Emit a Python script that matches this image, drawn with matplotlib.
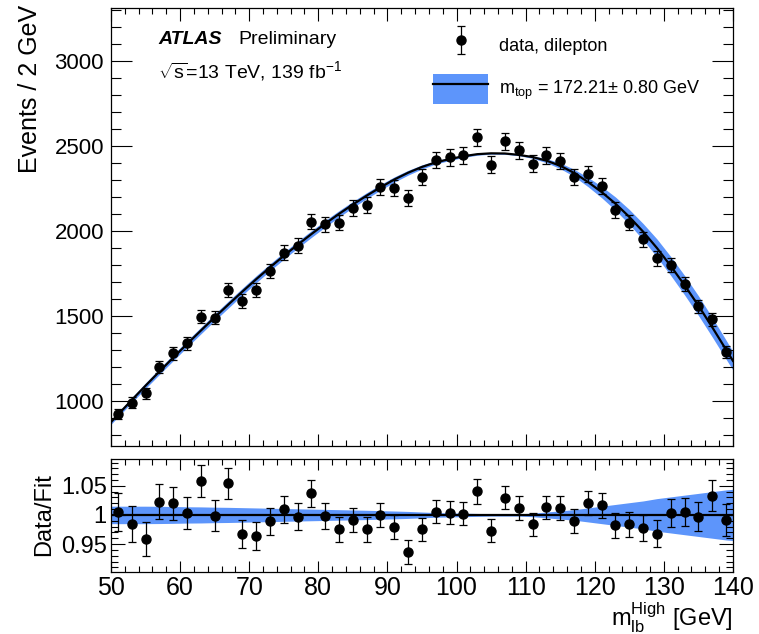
import numpy as np
import matplotlib
matplotlib.use("Agg")
import matplotlib.pyplot as plt
from matplotlib.patches import Patch
from matplotlib.lines import Line2D
from matplotlib.container import ErrorbarContainer
from matplotlib.legend_handler import HandlerErrorbar
from matplotlib.ticker import MultipleLocator, FixedLocator, FixedFormatter

plt.rcParams['font.family'] = ['Liberation Sans', 'DejaVu Sans']
plt.rcParams['mathtext.fontset'] = 'custom'
plt.rcParams['mathtext.rm'] = 'Liberation Sans'
plt.rcParams['mathtext.it'] = 'Liberation Sans:italic'
plt.rcParams['mathtext.bf'] = 'Liberation Sans:bold'

# data, dilepton channel (bin centres, 2 GeV bins)
bin_x = [51, 53, 55, 57, 59, 61, 63, 65, 67, 69, 71, 73, 75, 77, 79, 81, 83, 85, 87, 89, 91, 93,
         95, 97, 99, 101, 103, 105, 107, 109, 111, 113, 115, 117, 119, 121, 123, 125, 127, 129,
         131, 133, 135, 137, 139]
events = [924, 990, 1045, 1200, 1280, 1339, 1496, 1490, 1653, 1590, 1653, 1766, 1872, 1913,
          2055, 2039, 2049, 2137, 2153, 2257, 2255, 2194, 2318, 2418, 2433, 2445, 2551, 2390,
          2529, 2476, 2396, 2445, 2412, 2319, 2335, 2266, 2122, 2049, 1951, 1839, 1800, 1690,
          1556, 1481, 1290]
events_err = [30, 31, 32, 35, 36, 37, 39, 39, 41, 40, 41, 42, 43, 44, 45, 45, 45, 46, 46, 48,
              47, 47, 48, 49, 49, 49, 51, 49, 50, 50, 49, 49, 49, 48, 48, 48, 46, 45, 44, 43,
              42, 41, 39, 38, 36]

# fit template (m_top = 172.21 GeV) and its relative uncertainty
fit_x = [50] + bin_x + [140]
fit_y = [876, 919, 1005, 1090, 1173, 1255, 1335, 1414, 1492, 1568, 1643, 1716, 1786, 1854,
         1919, 1982, 2043, 2101, 2156, 2208, 2257, 2303, 2343, 2377, 2404, 2423, 2440, 2452,
         2457, 2456, 2448, 2435, 2414, 2384, 2342, 2289, 2229, 2161, 2083, 1996, 1900, 1794,
         1681, 1561, 1434, 1302, 1236]
fit_rel_unc = [0.015, 0.015, 0.015, 0.015, 0.0148, 0.0145, 0.014, 0.0138, 0.0133, 0.013,
               0.0125, 0.012, 0.0115, 0.011, 0.0105, 0.010, 0.0095, 0.009, 0.0085, 0.008,
               0.0073, 0.0067, 0.006, 0.005, 0.004, 0.0035, 0.003, 0.0025, 0.002, 0.002,
               0.002, 0.003, 0.005, 0.007, 0.009, 0.012, 0.015, 0.018, 0.021, 0.024, 0.028,
               0.031, 0.034, 0.037, 0.040, 0.043, 0.044]

band_color = '#5d95fb'

fig = plt.figure(figsize=(7.59, 6.34), dpi=100)
ax = fig.add_axes([0.1462, 0.2970, 0.8195, 0.6904])
rax = fig.add_axes([0.1462, 0.0978, 0.8195, 0.1782])

fx = np.array(fit_x, dtype=float)
fy = np.array(fit_y, dtype=float)
frel = np.array(fit_rel_unc)
ev = np.array(events, dtype=float)
everr = np.array(events_err, dtype=float)
fit_at_bins = fy[1:-1]

# main panel
ax.fill_between(fx, fy * (1 - frel), fy * (1 + frel), color=band_color, lw=0, zorder=1)
ax.plot(fx, fy, color='black', lw=1.6, zorder=2)
data_h = ax.errorbar(bin_x, ev, yerr=everr, fmt='o', color='black', ms=6.5,
                     elinewidth=0.9, capsize=3, capthick=0.9, zorder=3)

ax.set_xlim(50, 140)
ax.set_ylim(737, 3312)

# ratio panel
ratio = ev / fit_at_bins
ratio_err = everr / fit_at_bins
rax.fill_between(fx, 1 - frel, 1 + frel, color=band_color, lw=0, zorder=1)
rax.axhline(1.0, color='black', lw=1.6, zorder=2)
rax.errorbar(bin_x, ratio, yerr=ratio_err, fmt='o', color='black', ms=6.5,
             elinewidth=0.9, capsize=3, capthick=0.9, zorder=3)
rax.set_xlim(50, 140)
rax.set_ylim(0.902, 1.096)

# ROOT-like ticks
for a in (ax, rax):
    a.tick_params(which='both', direction='in', top=True, right=True, width=0.8,
                  color='black')
    for s in a.spines.values():
        s.set_linewidth(0.9)
    a.xaxis.set_major_locator(MultipleLocator(10))
    a.xaxis.set_minor_locator(MultipleLocator(2))

ax.yaxis.set_major_locator(MultipleLocator(500))
ax.yaxis.set_minor_locator(MultipleLocator(100))
ax.tick_params(axis='y', which='major', length=15, labelsize=16, pad=5)
ax.tick_params(axis='y', which='minor', length=7.5)
ax.tick_params(axis='x', which='major', length=9, labelbottom=False)
ax.tick_params(axis='x', which='minor', length=4.5)

rax.yaxis.set_major_locator(FixedLocator([0.95, 1.0, 1.05]))
rax.yaxis.set_major_formatter(FixedFormatter(['0.95', '1', '1.05']))
rax.yaxis.set_minor_locator(MultipleLocator(0.01))
rax.tick_params(axis='y', which='major', length=10, labelsize=17, pad=3)
rax.tick_params(axis='y', which='minor', length=5)
rax.tick_params(axis='x', which='major', length=8, labelsize=18, pad=3)
rax.tick_params(axis='x', which='minor', length=4)

# axis titles
fig.text(30.5 / 759, 1 - 5 / 634, 'Events / 2 GeV', rotation=90, ha='center', va='top',
         fontsize=18)
fig.text(44 / 759, 1 - 515 / 634, 'Data/Fit', rotation=90, ha='center', va='center',
         fontsize=17)
fig.text(733 / 759, 1 - 626 / 634, r'm$_{\mathrm{lb}}^{\mathrm{High}}$ [GeV]', ha='right',
         va='baseline', fontsize=17)

# labels
ax.text(0.0755, 0.917, 'ATLAS', transform=ax.transAxes, fontsize=14, fontweight='bold',
        style='italic', va='baseline')
ax.text(0.205, 0.917, 'Preliminary', transform=ax.transAxes, fontsize=14, va='baseline')
ax.text(0.0755, 0.840, r'$\sqrt{\mathrm{s}}$=13 TeV, 139 fb$^{\mathrm{-1}}$',
        transform=ax.transAxes, fontsize=14, va='baseline')

# legend
band_h = (Patch(facecolor=band_color, edgecolor='none'), Line2D([], [], color='black', lw=1.6))
leg = ax.legend([data_h, band_h],
                ['data, dilepton', r'm$_{\mathrm{top}}$ = 172.21$\pm$ 0.80 GeV'],
                loc='upper left', bbox_to_anchor=(0.5177, 0.950), frameon=False,
                fontsize=13, borderpad=0, borderaxespad=0, handlelength=3.05,
                handleheight=2.2, handletextpad=0.6, labelspacing=0.75,
                handler_map={ErrorbarContainer: HandlerErrorbar(yerr_size=0.77)})

fig.savefig('out.png', dpi=100)
